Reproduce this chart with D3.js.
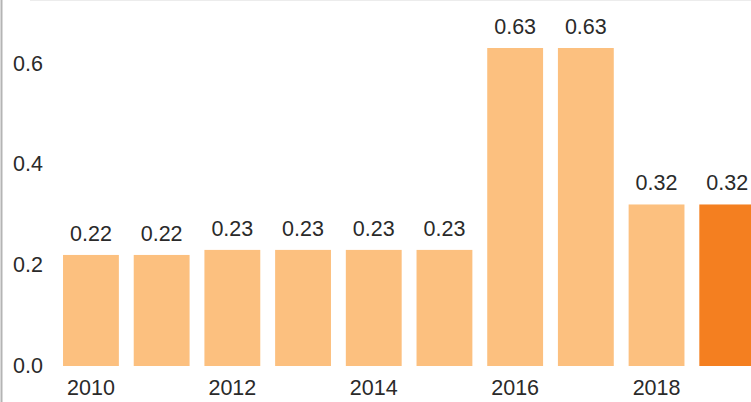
<!DOCTYPE html>
<html>
<head>
<meta charset="utf-8">
<script src="https://cdn.jsdelivr.net/npm/d3@7"></script>
<style>
  html, body { margin: 0; padding: 0; background: #fff; overflow: hidden; }
  svg { display: block; font-family: "Liberation Sans", Arial, sans-serif; }
</style>
</head>
<body>
<svg id="chart" width="751" height="402"></svg>
<script>
// Yearly values
const years = ["2010", "2011", "2012", "2013", "2014", "2015", "2016", "2017", "2018", "2019"];
const values = [0.22, 0.22, 0.23, 0.23, 0.23, 0.23, 0.63, 0.63, 0.32, 0.32];
const yTicks = [0.0, 0.2, 0.4, 0.6];
const xTickLabels = ["2010", "2012", "2014", "2016", "2018"];
const highlightYear = "2019";

const svg = d3.select("#chart");
const W = 751, H = 402;
const FONT = 21.5;

const x = d3.scaleBand()
  .domain(years)
  .range([55.6, 762.6])
  .paddingInner(0.21)
  .paddingOuter(0.105);

const y = d3.scaleLinear()
  .domain([0, 0.63])
  .range([366, 48]);

// frame lines
svg.append("line")
  .attr("x1", 30).attr("x2", W).attr("y1", 0.5).attr("y2", 0.5)
  .attr("stroke", "#ececec").attr("stroke-width", 1);
svg.append("line")
  .attr("x1", 1.5).attr("x2", 1.5).attr("y1", 0).attr("y2", H)
  .attr("stroke", "#b4b4b4").attr("stroke-width", 2);

// bars
const data = years.map((yr, i) => ({ year: yr, value: values[i] }));
svg.append("g").selectAll("rect")
  .data(data)
  .join("rect")
  .attr("x", d => x(d.year))
  .attr("width", x.bandwidth())
  .attr("y", d => y(d.value))
  .attr("height", d => y(0) - y(d.value))
  .attr("fill", d => d.year === highlightYear ? "#f47f20" : "#fcc07f");

// value labels
svg.append("g").selectAll("text")
  .data(data)
  .join("text")
  .attr("x", d => x(d.year) + x.bandwidth() / 2)
  .attr("y", d => y(d.value) - 14)
  .attr("text-anchor", "middle")
  .attr("font-size", FONT)
  .attr("fill", "#2a2a2a")
  .text(d => d3.format(".2f")(d.value));

// y axis (labels only)
const yAxis = d3.axisLeft(y)
  .tickValues(yTicks)
  .tickFormat(d3.format(".1f"))
  .tickSize(0)
  .tickPadding(0);
const gy = svg.append("g").attr("transform", "translate(43,0)").call(yAxis);
gy.select(".domain").remove();
gy.selectAll("text")
  .attr("font-size", FONT)
  .attr("fill", "#2a2a2a")
  .attr("font-family", "Liberation Sans, Arial, sans-serif");

// x axis (every other year)
const xAxis = d3.axisBottom(x)
  .tickValues(xTickLabels)
  .tickSize(0)
  .tickPadding(0);
const gx = svg.append("g").attr("transform", "translate(0,374)").call(xAxis);
gx.select(".domain").remove();
gx.selectAll("text")
  .attr("dy", "0.71em")
  .attr("y", 6)
  .attr("font-size", FONT)
  .attr("fill", "#2a2a2a")
  .attr("font-family", "Liberation Sans, Arial, sans-serif");
</script>
</body>
</html>
